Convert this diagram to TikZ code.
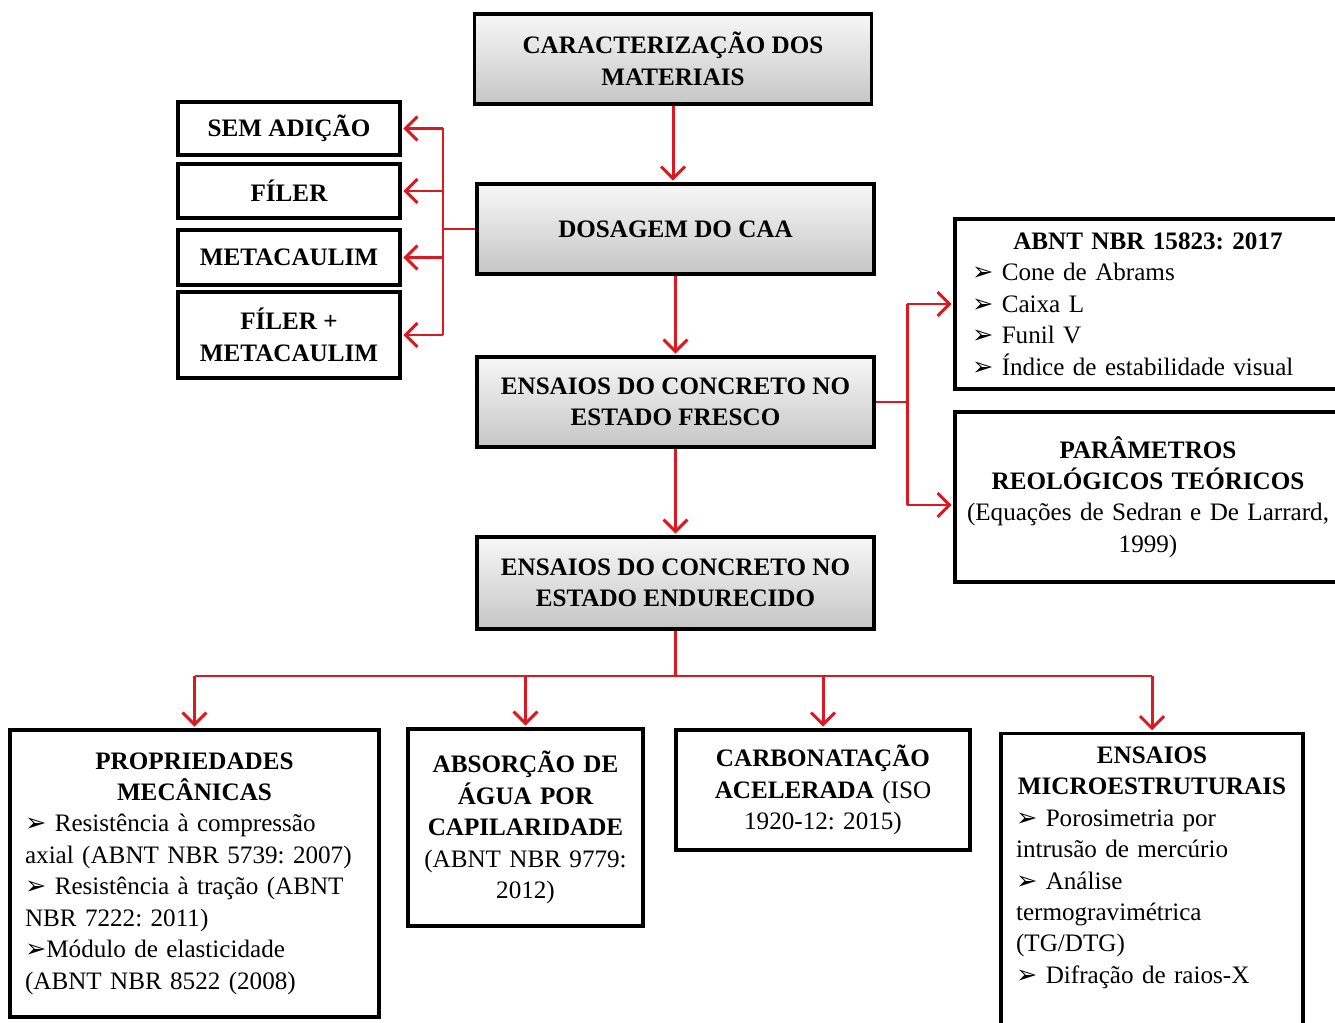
\documentclass[tikz,border=0pt]{standalone}
\usepackage{fontspec}
\setmainfont{Liberation Serif}
\newfontfamily\bulletfont{DejaVu Sans}
\usetikzlibrary{arrows.meta}
\frenchspacing

\definecolor{linkred}{RGB}{220,24,32}
\newcommand{\pointer}{{\bulletfont\fontsize{14.5}{14.5}\selectfont\char"27A2}\ }

\begin{document}
\begin{tikzpicture}[x=0.02cm,y=-0.02cm,
        txt/.style={font=\fontsize{14.3}{17.9}\selectfont},
        graybox/.style={txt,draw=black,line width=1.8pt,top color=gray!6,bottom color=gray!45,
            align=center,minimum width=7.94cm,minimum height=1.8cm,font=\fontsize{14.3}{17.9}\selectfont\bfseries},
        sidebox/.style={txt,draw=black,line width=1.8pt,fill=white,align=center,
            minimum width=4.44cm,font=\fontsize{14.3}{17.9}\selectfont\bfseries},
        listbox/.style={txt,draw=black,line width=1.8pt,fill=white,align=left,inner ysep=0.1cm},
        branch/.style={draw=linkred,line width=1.7pt},
        link/.style={branch,-{Straight Barb[length=2.4mm,width=4.8mm]},shorten >=1pt}]
    \useasboundingbox (0,0) rectangle (1335,1023);

    % main column
    \node[graybox] (carac) at (673,59) {CARACTERIZAÇÃO DOS\\ MATERIAIS};
    \node[graybox] (dosagem) at (675.5,229) {DOSAGEM DO CAA};
    \node[graybox] (fresco) at (675.5,402) {ENSAIOS DO CONCRETO NO\\ ESTADO FRESCO};
    \node[graybox,minimum height=1.84cm] (endur) at (675.5,583) {ENSAIOS DO CONCRETO NO\\ ESTADO ENDURECIDO};

    % mixtures
    \node[sidebox,minimum height=1.06cm] (sem) at (289,128.5) {SEM ADIÇÃO};
    \node[sidebox,minimum height=1.08cm] (filer) at (289,191) {FÍLER};
    \node[sidebox,minimum height=1.1cm] (meta) at (289,257.5) {METACAULIM};
    \node[sidebox,minimum height=1.72cm] (filmeta) at (289,335) {FÍLER +\\ METACAULIM};

    % fresh state
    \node[listbox,text width=7.04cm,inner xsep=0.34cm,minimum height=3.4cm] (abnt) at (1148,304)
        {{\centering\bfseries ABNT NBR 15823: 2017\par}
         \pointer Cone de Abrams\\ \pointer Caixa L\\ \pointer Funil V\\
         \pointer Índice de estabilidade visual};
    \node[listbox,align=center,text width=7.4cm,inner xsep=0.16cm,minimum height=3.4cm] (param) at (1148,497)
        {{\bfseries PARÂMETROS\\ REOLÓGICOS TEÓRICOS}\\ (Equações de Sedran e De Larrard,\\ 1999)};

    % hardened state
    \node[listbox,text width=6.78cm,inner xsep=0.3cm,minimum height=5.74cm] (prop) at (194.5,873.5)
        {{\centering\bfseries PROPRIEDADES\\ MECÂNICAS\par}
         \pointer Resistência à compressão\\ axial (ABNT NBR 5739: 2007)\\
         \pointer Resistência à tração (ABNT\\ NBR 7222: 2011)\\
         {\bulletfont\fontsize{14.5}{14.5}\selectfont\char"27A2}Módulo de elasticidade\\ (ABNT NBR 8522 (2008)};
    \node[listbox,align=center,text width=4.3cm,inner xsep=0.2cm,minimum height=3.94cm] (absor) at (525.5,827.5)
        {{\bfseries ABSORÇÃO DE\\ ÁGUA POR\\ CAPILARIDADE}\\ (ABNT NBR 9779:\\ 2012)};
    \node[listbox,align=center,text width=5.5cm,inner xsep=0.19cm,minimum height=2.4cm] (carbon) at (823,790)
        {{\bfseries CARBONATAÇÃO\\ ACELERADA} (ISO\\ 1920-12: 2015)};
    \node[listbox,text width=5.44cm,inner xsep=0.3cm,inner ysep=0.26cm,anchor=north] (micro) at (1152,732)
        {{\centering\bfseries ENSAIOS\\ MICROESTRUTURAIS\par}
         \pointer Porosimetria por\\ intrusão de mercúrio\\
         \pointer Análise\\ termogravimétrica\\ (TG/DTG)\\
         \pointer Difração de raios-X\\[1.6cm]\mbox{}};

    % connectors
    \coordinate (lb) at (443,229);
    \coordinate (rb) at (907,402);
    \coordinate (bb) at (679,676);
    \coordinate (pa) at ([yshift=-0.16cm]param.west);

    \draw[link] (carac.south) -- (carac.south |- dosagem.north);
    \draw[link] (dosagem.south) -- (dosagem.south |- fresco.north);
    \draw[link] (fresco.south) -- (fresco.south |- endur.north);

    \draw[branch] (dosagem) -- (lb);
    \draw[branch] (lb |- sem) -- (lb |- filmeta);
    \foreach \n in {sem,filer,meta,filmeta}
        \draw[link] (lb |- \n) -- (\n);

    \draw[branch] (fresco) -- (rb);
    \draw[branch] (rb |- abnt) -- (rb |- pa);
    \draw[link] (rb |- abnt) -- (abnt);
    \draw[link] (rb |- pa) -- (pa);

    \draw[branch] (endur.south) -- (endur.south |- bb);
    \draw[branch] (prop |- bb) -- (micro |- bb);
    \foreach \n in {prop,absor,carbon,micro}
        \draw[link] (\n |- bb) -- (\n.north);
\end{tikzpicture}
\end{document}
